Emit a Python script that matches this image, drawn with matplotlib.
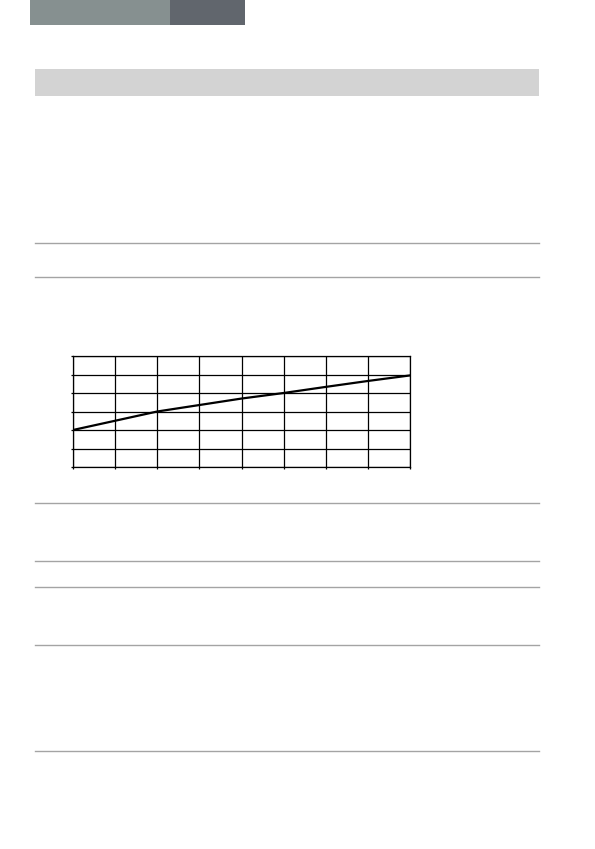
import matplotlib.pyplot as plt
from matplotlib.patches import Rectangle
from matplotlib.lines import Line2D

# curve values read from the page (8 columns x 6 rows grid)
x_vals = [0, 1, 2, 3, 4, 5, 6, 7, 8]
y_vals = [2.0, 2.5, 3.0, 3.35, 3.7, 4.0, 4.33, 4.65, 4.95]
x_ticks = list(range(0, 9))
y_ticks = list(range(0, 7))

W, H = 595, 849
fig = plt.figure(figsize=(W / 100, H / 100), dpi=100)


def fx(px):
    return px / W


def fy(py):
    return 1 - py / H


# header tabs
fig.add_artist(Rectangle((fx(30), fy(25)), fx(140), 25 / H, color='#869090', lw=0))
fig.add_artist(Rectangle((fx(170), fy(25)), fx(75), 25 / H, color='#61666d', lw=0))

# grey title band
fig.add_artist(Rectangle((fx(35), fy(96)), fx(504), 27 / H, color='#d3d3d3', lw=0))

# horizontal separator rules
for py in [243, 277, 503, 561, 587, 645, 751]:
    fig.add_artist(Line2D([fx(35), fx(539)], [fy(py), fy(py)], color='#a4a4a4', lw=1))

# chart
ax = fig.add_axes([fx(73), fy(467), fx(337), 111 / H])
ax.plot(x_vals, y_vals, color='black', lw=1.6)
ax.set_xlim(0, 8)
ax.set_ylim(0, 6)
ax.set_xticks(x_ticks)
ax.set_yticks(y_ticks)
ax.grid(True, color='black', lw=0.9)
ax.tick_params(length=1.5, width=0.9, labelbottom=False, labelleft=False, direction='out')
for s in ax.spines.values():
    s.set_linewidth(0.9)

fig.savefig('out.png', dpi=100)
